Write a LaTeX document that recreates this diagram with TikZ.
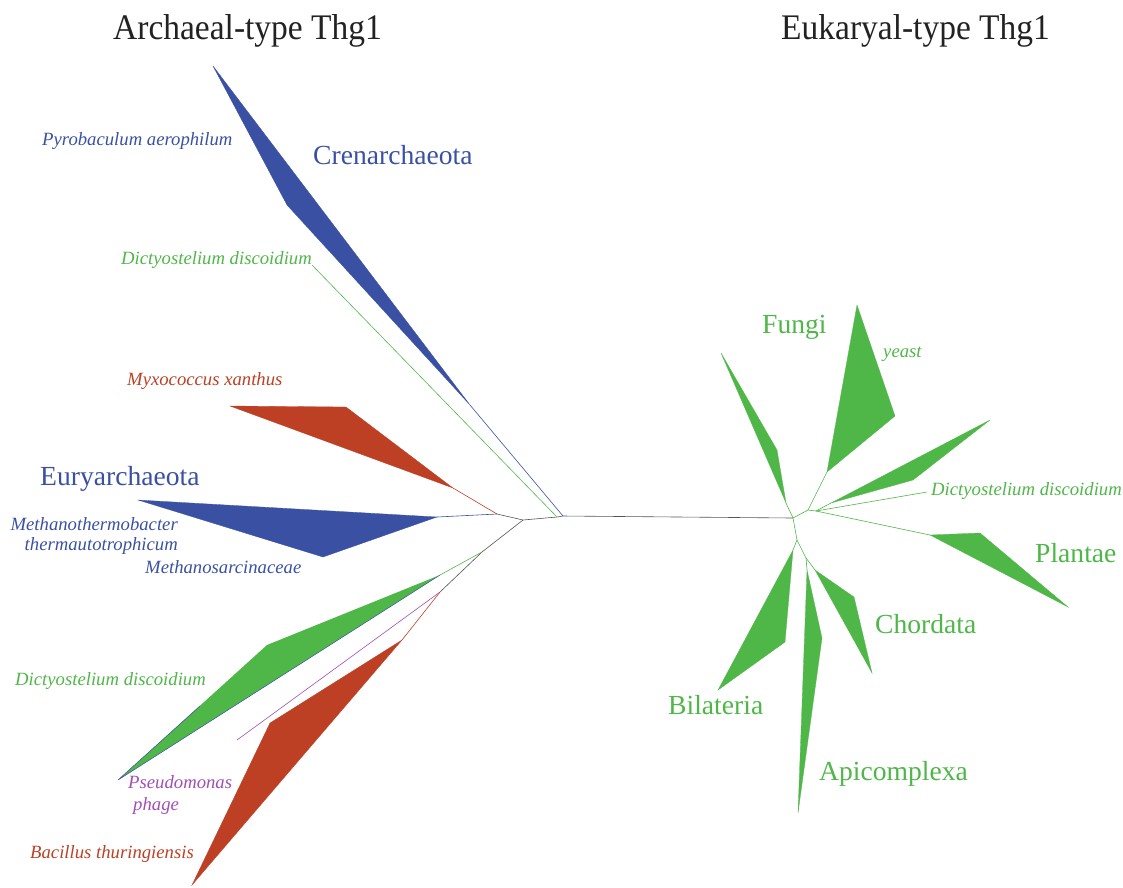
\documentclass[tikz,border=0pt]{standalone}
\usepackage{fontspec}
\setmainfont{Liberation Serif}
\definecolor{cblue}{HTML}{3A51A3}
\definecolor{cred}{HTML}{BD4024}
\definecolor{cgreen}{HTML}{4FB748}
\definecolor{cpurple}{HTML}{A04FB4}
\definecolor{cgray}{HTML}{555555}
\definecolor{ctitle}{HTML}{222222}
\begin{document}
\begin{tikzpicture}[x=1pt,y=-1pt,
  lab/.style={anchor=base west, inner sep=0, font=\fontsize{18.7}{20}\selectfont\itshape},
  labe/.style={anchor=base east, inner sep=0, font=\fontsize{18.7}{20}\selectfont\itshape},
  grp/.style={anchor=base west, inner sep=0, font=\fontsize{27.6}{30}\selectfont},
  ttl/.style={anchor=base west, inner sep=0, font=\fontsize{36}{40}\selectfont, text=ctitle},
  br/.style={line width=0.6pt},
  wedge/.style={line width=0.3pt}]
\useasboundingbox (0,0) rectangle (1123,887);

% ---------- tree nodes ----------
\coordinate (root) at (563,516);
\coordinate (dg) at (557,517);
\coordinate (A) at (523,520);
\coordinate (B) at (497,514);
\coordinate (C) at (482,552);
\coordinate (D) at (440,592);
\coordinate (E) at (793,518);
\coordinate (N1) at (808,510);
\coordinate (N2) at (816,511);
\coordinate (N3) at (797,540);
\coordinate (N4) at (806,558);

% wedge base points
\coordinate (cren) at (470,405);
\coordinate (dtop) at (312,265);
\coordinate (myx) at (453,488);
\coordinate (eury) at (437,517);
\coordinate (dlow) at (440,575);
\coordinate (pseu) at (237,740);
\coordinate (bac) at (402,640);
\coordinate (fun1) at (786,503);
\coordinate (yst) at (827,472);
\coordinate (up3) at (831,503);
\coordinate (drt) at (927,492);
\coordinate (pla) at (930,535);
\coordinate (bil) at (793,550);
\coordinate (api) at (807,570);
\coordinate (cho) at (815,570);

% ---------- wedges ----------
\fill[cblue, draw=cblue, wedge] (cren) -- (287,205) -- (213,66) -- cycle;
\fill[cred, draw=cred, wedge] (myx) -- (346,407) -- (230,406) -- cycle;
\fill[cblue, draw=cblue, wedge] (eury) -- (138,500) -- (323,557) -- cycle;
\fill[cgreen] (dlow) -- (267,645) -- (118,780) -- cycle;
\draw[cblue, line width=0.5pt] (dlow) -- (118,780) -- (200,706);
\fill[cred, draw=cred, wedge] (bac) -- (270,723) -- (192,885) -- cycle;

\fill[cgreen, draw=cgreen, wedge] (fun1) -- (777,450) -- (721,353) -- cycle;
\fill[cgreen, draw=cgreen, wedge] (yst) -- (895,416) -- (857,305) -- cycle;
\fill[cgreen, draw=cgreen, wedge] (up3) -- (913,480) -- (990,420) -- cycle;
\fill[cgreen, draw=cgreen, wedge] (pla) -- (980,533) -- (1068,607) -- cycle;
\fill[cgreen, draw=cgreen, wedge] (bil) -- (785,642) -- (718,690) -- cycle;
\fill[cgreen, draw=cgreen, wedge] (api) -- (822,638) -- (798,813) -- cycle;
\fill[cgreen, draw=cgreen, wedge] (cho) -- (854,597) -- (872,673) -- cycle;

% ---------- branches ----------
\draw[cgray, br] (B) -- (A) -- (dg) -- (root) -- (E);
\draw[cgray, br] (A) -- (C) -- (D);
\draw[cblue, br] (root) -- (cren);
\draw[cgreen, br] (dg) -- (dtop);
\draw[cred, br] (B) -- (myx);
\draw[cblue, br] (B) -- (eury);
\draw[cgreen, br] (C) -- (dlow);
\draw[cpurple, br] (D) -- (pseu);
\draw[cred, br] (D) -- (bac);

\draw[cgreen, br] (E) -- (fun1);
\draw[cgreen, br] (E) -- (N1) -- (N2);
\draw[cgreen, br] (N1) -- (yst);
\draw[cgreen, br] (N2) -- (up3);
\draw[cgreen, br] (N2) -- (drt);
\draw[cgreen, br] (N2) -- (pla);
\draw[cgreen, br] (E) -- (N3) -- (N4);
\draw[cgreen, br] (N3) -- (bil);
\draw[cgreen, br] (N4) -- (api);
\draw[cgreen, br] (N4) -- (cho);

% ---------- titles ----------
\node[ttl] (t1) at (113,39) {\scalebox{0.93}[1]{Archaeal-type Thg1}};
\node[ttl] (t2) at (781,39) {\scalebox{0.93}[1]{Eukaryal-type Thg1}};

% ---------- group labels ----------
\node[grp, text=cblue] (lcren) at (313,164) {Crenarchaeota};
\node[grp, text=cblue] (leury) at (40,485) {Euryarchaeota};
\node[grp, text=cgreen] (lfun) at (762,333) {Fungi};
\node[grp, text=cgreen] (lpla) at (1035,562) {Plantae};
\node[grp, text=cgreen] (lcho) at (875,633) {Chordata};
\node[grp, text=cgreen] (lbil) at (668,714) {Bilateria};
\node[grp, text=cgreen] (lapi) at (819,780) {Apicomplexa};

% ---------- species labels ----------
\node[lab, text=cblue] (lpyr) at (42,145) {Pyrobaculum aerophilum};
\node[labe, text=cgreen] (ldtop) at (312,264) {Dictyostelium discoidium};
\node[lab, text=cred] (lmyx) at (127,385) {Myxococcus xanthus};
\node[labe, text=cblue] (lmt1) at (178,530) {Methanothermobacter};
\node[labe, text=cblue] (lmt2) at (178,550) {thermautotrophicum};
\node[lab, text=cblue] (lmsa) at (145,573) {Methanosarcinaceae};
\node[lab, text=cgreen] (ldlow) at (15,685) {Dictyostelium discoidium};
\node[lab, text=cpurple] (lps1) at (128,788) {Pseudomonas};
\node[lab, text=cpurple] (lps2) at (133,810) {phage};
\node[lab, text=cred] (lbac) at (30,858) {Bacillus thuringiensis};
\node[lab, text=cgreen] (lyst) at (883,357) {yeast};
\node[lab, text=cgreen] (ldrt) at (931,495) {Dictyostelium discoidium};
\end{tikzpicture}
\end{document}
